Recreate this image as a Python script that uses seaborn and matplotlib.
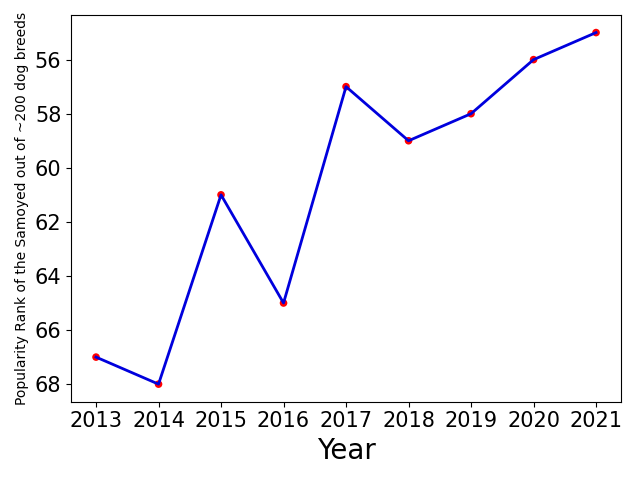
import pandas as pd
import seaborn as sns
import matplotlib.pyplot as plt

years = [2013, 2014, 2015, 2016, 2017, 2018, 2019, 2020, 2021]
ranks = [67, 68, 61, 65, 57, 59, 58, 56, 55]

df = pd.DataFrame({'Year': years, 'Rank': ranks})

fig, ax = plt.subplots(figsize=(6.4, 4.8), dpi=100)
sns.scatterplot(x='Year', y='Rank', data=df, color='red', s=30, edgecolor='none', ax=ax)
sns.lineplot(x='Year', y='Rank', data=df, color='#0000dd', linewidth=2, ax=ax)

ax.invert_yaxis()
ax.set_xticks(years)
ax.tick_params(axis='both', labelsize=15)
ax.set_xlabel('Year', fontsize=20)
ax.set_ylabel('Popularity Rank of the Samoyed out of ~200 dog breeds', fontsize=10)

plt.tight_layout()
plt.savefig('out.png')
